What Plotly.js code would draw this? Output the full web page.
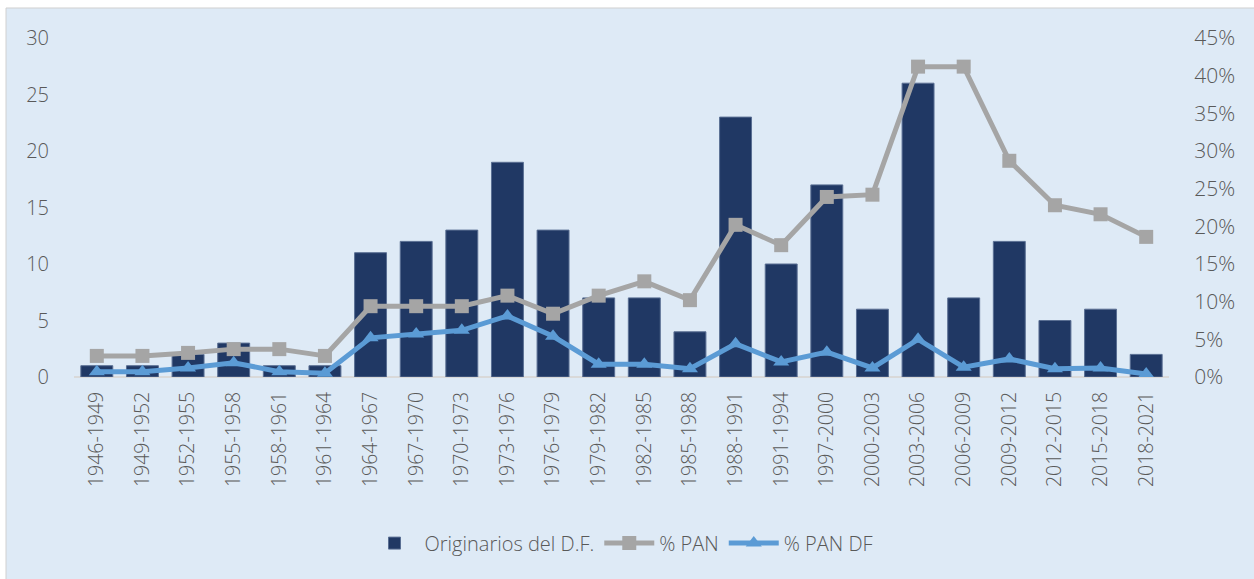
<!DOCTYPE html>
<html>
<head>
<meta charset="utf-8">
<script src="https://cdn.plot.ly/plotly-3.0.1.min.js"></script>
<style>
  html, body { margin: 0; padding: 0; background: #fff; }
  #chart { width: 1254px; height: 579px; }
</style>
</head>
<body>
<div id="chart"></div>
<script>
const periods = [
  '1946-1949', '1949-1952', '1952-1955', '1955-1958', '1958-1961', '1961-1964',
  '1964-1967', '1967-1970', '1970-1973', '1973-1976', '1976-1979', '1979-1982',
  '1982-1985', '1985-1988', '1988-1991', '1991-1994', '1997-2000', '2000-2003',
  '2003-2006', '2006-2009', '2009-2012', '2012-2015', '2015-2018', '2018-2021'
];
const originarios = [1, 1, 2, 3, 1, 1, 11, 12, 13, 19, 13, 7, 7, 4, 23, 10, 17, 6, 26, 7, 12, 5, 6, 2];
const pctPan = [2.8, 2.8, 3.2, 3.7, 3.7, 2.8, 9.4, 9.4, 9.4, 10.8, 8.4, 10.8,
  12.7, 10.2, 20.2, 17.5, 23.9, 24.2, 41.2, 41.2, 28.7, 22.8, 21.6, 18.6];
const pctPanDf = [0.7, 0.7, 1.2, 1.9, 0.7, 0.5, 5.2, 5.7, 6.2, 8.1, 5.4, 1.7,
  1.7, 1.1, 4.4, 2.0, 3.3, 1.2, 5.0, 1.3, 2.4, 1.1, 1.2, 0.4];
const leftTicks = [0, 5, 10, 15, 20, 25, 30];
const rightTicks = [0, 5, 10, 15, 20, 25, 30, 35, 40, 45];

const fontFamily = 'Open Sans, Noto Sans, sans-serif';
const gray = '#595959';

const traces = [
  {
    type: 'bar',
    name: 'Originarios del D.F.',
    x: periods,
    y: originarios,
    marker: { color: '#203864', line: { color: '#5a6f93', width: 1 } },
    yaxis: 'y'
  },
  {
    type: 'scatter',
    mode: 'lines+markers',
    name: '% PAN',
    x: periods,
    y: pctPan.map(v => v / 100),
    line: { color: '#a5a5a5', width: 5 },
    marker: { symbol: 'square', size: 14, color: '#a5a5a5' },
    yaxis: 'y2'
  },
  {
    type: 'scatter',
    mode: 'lines+markers',
    name: '% PAN DF',
    x: periods,
    y: pctPanDf.map(v => v / 100),
    line: { color: '#5b9bd5', width: 5 },
    marker: { symbol: 'triangle-up', size: 14, color: '#5b9bd5' },
    yaxis: 'y2'
  }
];

const layout = {
  width: 1254,
  height: 579,
  paper_bgcolor: '#ffffff',
  plot_bgcolor: 'rgba(0,0,0,0)',
  margin: { l: 74, r: 85, t: 38, b: 202 },
  font: { family: fontFamily, color: gray, size: 16, weight: 300 },
  bargap: 0.3,
  showlegend: true,
  legend: {
    orientation: 'h',
    x: 0.5,
    xanchor: 'center',
    y: -0.49,
    yanchor: 'middle',
    font: { size: 20, color: gray, family: fontFamily, weight: 300 },
    itemwidth: 50,
    traceorder: 'normal',
    bgcolor: 'rgba(0,0,0,0)'
  },
  xaxis: {
    type: 'category',
    range: [-0.5, periods.length - 0.5],
    tickangle: -90,
    tickfont: { size: 19.5, color: gray, weight: 300 },
    showgrid: false,
    showline: false,
    ticks: 'outside',
    ticklen: 6,
    tickcolor: 'rgba(0,0,0,0)',
    zeroline: false
  },
  yaxis: {
    range: [0, 30],
    tickvals: leftTicks,
    tickfont: { size: 20, color: gray, weight: 300 },
    showgrid: false,
    zeroline: true,
    zerolinecolor: '#d9d9d9',
    zerolinewidth: 2,
    ticks: 'outside',
    ticklen: 20,
    tickcolor: 'rgba(0,0,0,0)'
  },
  yaxis2: {
    overlaying: 'y',
    side: 'right',
    range: [0, 0.45],
    tickvals: rightTicks.map(v => v / 100),
    ticktext: rightTicks.map(v => v + '%'),
    tickfont: { size: 21, color: gray, weight: 300 },
    showgrid: false,
    zeroline: false,
    ticks: 'outside',
    ticklen: 20,
    tickcolor: 'rgba(0,0,0,0)'
  },
  shapes: [
    {
      type: 'rect', xref: 'paper', yref: 'paper', layer: 'below',
      x0: -0.0621, x1: 1.08, y0: -0.62, y1: 1.0885,
      fillcolor: '#deeaf6',
      line: { color: '#d0d0d0', width: 1 }
    }
  ]
};

Plotly.newPlot('chart', traces, layout, { displayModeBar: false, staticPlot: true });
</script>
</body>
</html>
